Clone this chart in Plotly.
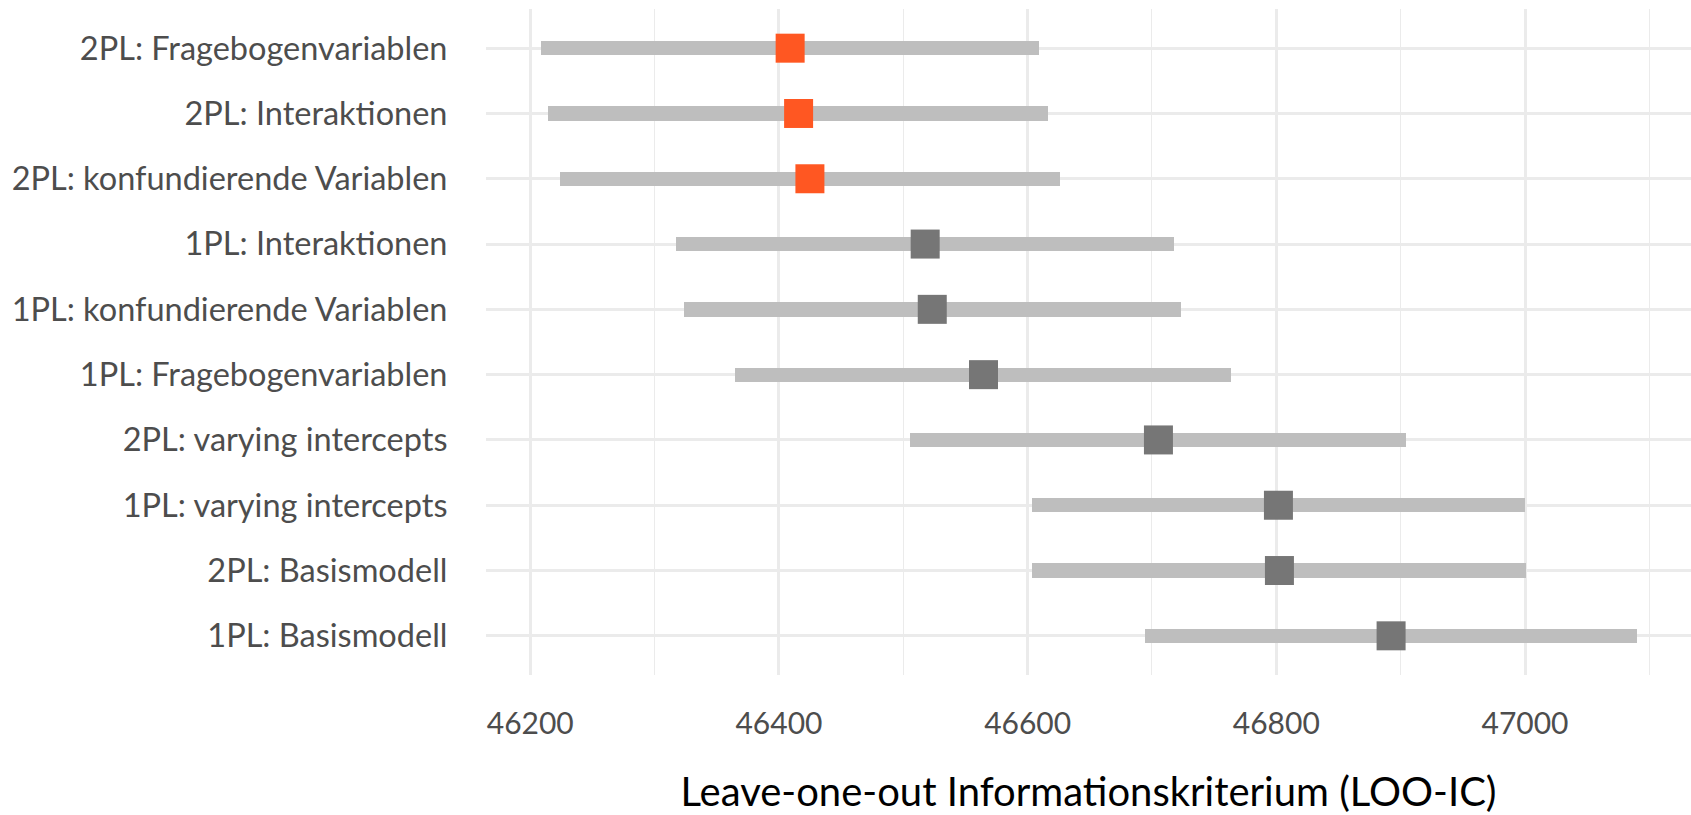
import plotly.graph_objects as go

models = [
    "2PL: Fragebogenvariablen",
    "2PL: Interaktionen",
    "2PL: konfundierende Variablen",
    "1PL: Interaktionen",
    "1PL: konfundierende Variablen",
    "1PL: Fragebogenvariablen",
    "2PL: varying intercepts",
    "1PL: varying intercepts",
    "2PL: Basismodell",
    "1PL: Basismodell",
]
looic = [46409.0, 46415.8, 46424.9, 46517.6, 46523.3, 46564.5, 46705.2, 46801.7, 46802.5, 46892.3]
lower = [46208.6, 46214.5, 46223.6, 46317.4, 46323.6, 46364.8, 46505.5, 46603.4, 46603.9, 46694.2]
upper = [46609.5, 46616.7, 46625.9, 46717.8, 46723.4, 46763.9, 46904.3, 47000.0, 47001.0, 47089.8]
best = [True, True, True, False, False, False, False, False, False, False]

tick_vals = [46200, 46400, 46600, 46800, 47000]
tick_text = ["46200", "46400", "46600", "46800", "47000"]

FONT = "Lato"
W, H = 1691, 815
ml, mr, mt, mb = 486, 0, 8.5, 139.8

fig = go.Figure()

fig.add_trace(go.Bar(
    y=models,
    x=[u - l for u, l in zip(upper, lower)],
    base=lower,
    orientation="h",
    width=0.219,
    marker=dict(color="#BEBEBE", line=dict(width=0)),
    hoverinfo="skip",
    showlegend=False,
))

fig.add_trace(go.Scatter(
    y=models,
    x=looic,
    mode="markers",
    marker=dict(
        symbol="square",
        size=29,
        color=["#FF5722" if b else "#767676" for b in best],
        line=dict(width=0),
    ),
    showlegend=False,
))

fig.update_layout(
    width=W, height=H,
    margin=dict(l=ml, r=mr, t=mt, b=mb, pad=0),
    paper_bgcolor="white",
    plot_bgcolor="white",
    font=dict(family=FONT, color="#4D4D4D"),
    bargap=0,
    xaxis=dict(
        range=[46164.4, 47133.5],
        tickvals=tick_vals,
        ticktext=tick_text,
        showgrid=True,
        gridcolor="#EBEBEB",
        gridwidth=2.6,
        minor=dict(dtick=100, tick0=46100, showgrid=True, gridcolor="#EBEBEB", gridwidth=1.4),
        zeroline=False,
        showline=False,
        ticks="outside",
        ticklen=21.5,
        tickcolor="rgba(0,0,0,0)",
        tickfont=dict(size=30, color="#4D4D4D", family=FONT),
        title=dict(
            text="Leave-one-out Informationskriterium (LOO-IC)",
            font=dict(size=40, color="#000000", family=FONT),
            standoff=39,
        ),
        automargin=False,
        fixedrange=True,
    ),
    yaxis=dict(
        type="category",
        categoryorder="array",
        categoryarray=models,
        range=[9.6, -0.6],
        showgrid=True,
        gridcolor="#EBEBEB",
        gridwidth=2.6,
        zeroline=False,
        showline=False,
        ticks="outside",
        ticklen=31,
        tickcolor="rgba(0,0,0,0)",
        tickfont=dict(size=32.5, color="#4D4D4D", family=FONT),
        automargin=False,
        fixedrange=True,
    ),
)

fig.write_html(
    "out.html",
    config={"displayModeBar": False},
    post_script="document.body.style.margin='0';document.body.style.overflow='hidden';",
)
